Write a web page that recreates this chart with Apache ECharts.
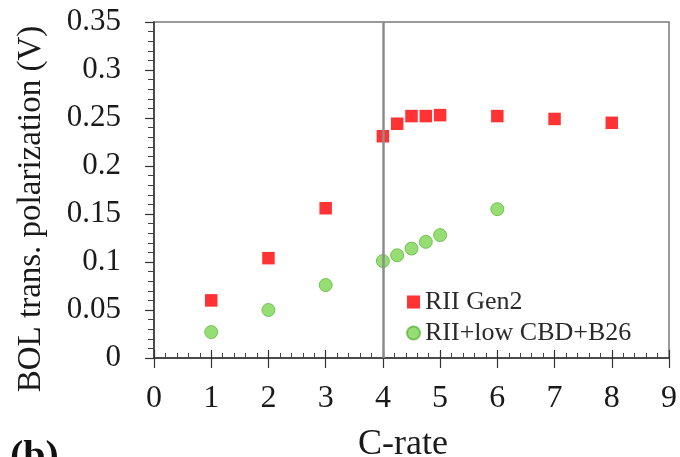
<!DOCTYPE html>
<html><head><meta charset="utf-8">
<script src="https://cdn.jsdelivr.net/npm/echarts@6/dist/echarts.min.js"></script>
<style>html,body{margin:0;padding:0;background:#fff}#c{width:680px;height:457px}</style>
</head><body><div id="c"></div>
<script>
const gen2X = [1, 2, 3, 4, 4.25, 4.5, 4.75, 5, 6, 7, 8];
const gen2Y = [0.060, 0.104, 0.156, 0.231, 0.244, 0.252, 0.252, 0.253, 0.252, 0.249, 0.245];
const b26X = [1, 2, 3, 4, 4.25, 4.5, 4.75, 5, 6];
const b26Y = [0.027, 0.050, 0.076, 0.101, 0.107, 0.114, 0.121, 0.128, 0.155];
const seriesNames = ['RII Gen2', 'RII+low CBD+B26'];
const yTicks = ['0', '0.05', '0.1', '0.15', '0.2', '0.25', '0.3', '0.35'];
const xTitle = 'C-rate';
const yTitle = 'BOL trans. polarization (V)';

const font = 'Liberation Serif';
const txt = '#1a1a1a';
const chart = echarts.init(document.getElementById('c'));
chart.setOption({
  animation: false,
  grid: {left: 154, right: 10, top: 22, bottom: 99, show: true, borderColor: '#7a7a7a', borderWidth: 1.5},
  xAxis: [{
    type: 'value', min: 0, max: 9, interval: 1, position: 'bottom',
    axisLine: {lineStyle: {color: '#333', width: 1.5}},
    axisTick: {inside: true, length: 8, lineStyle: {color: '#333', width: 1.2}},
    minorTick: {show: true, splitNumber: 5, length: 5, lineStyle: {color: '#444'}},
    splitLine: {show: false},
    axisLabel: {fontFamily: font, fontSize: 32, color: txt, margin: 25}
  }, {
    type: 'value', min: 0, max: 9, interval: 1, position: 'bottom',
    axisLine: {show: false},
    axisTick: {inside: false, length: 10, lineStyle: {color: '#333', width: 1.2}},
    splitLine: {show: false},
    axisLabel: {show: false}
  }],
  yAxis: {
    type: 'value', min: 0, max: 0.35, interval: 0.05,
    axisLine: {lineStyle: {color: '#333', width: 1.5}},
    axisTick: {length: 9, lineStyle: {color: '#333', width: 1.2}},
    minorTick: {show: true, splitNumber: 5, length: 6, lineStyle: {color: '#444'}},
    splitLine: {show: false},
    axisLabel: {fontFamily: font, fontSize: 31, color: txt, margin: 33,
      formatter: (v) => yTicks[Math.round(v / 0.05)]}
  },
  legend: {
    orient: 'vertical', left: 406, top: 289, padding: 0, itemGap: 5, itemWidth: 13, itemHeight: 13,
    textStyle: {fontFamily: font, fontSize: 26, color: '#2a2a2a'},
    data: [{name: seriesNames[0], icon: 'rect'}, {name: seriesNames[1], icon: 'circle'}]
  },
  graphic: [
    {type: 'text', x: 31, y: 209, rotation: Math.PI / 2,
     style: {text: yTitle, fontFamily: font, fontSize: 33, fill: txt, align: 'center', verticalAlign: 'middle'}},
    {type: 'text', x: 403, y: 445,
     style: {text: xTitle, fontFamily: font, fontSize: 36, fill: txt, align: 'center', verticalAlign: 'middle'}},
    {type: 'text', left: 10, top: 438,
     style: {text: '(b)', fontFamily: font, fontSize: 40, fontWeight: 'bold', fill: '#111'}}
  ],
  series: [
    {name: seriesNames[0], type: 'scatter', symbol: 'rect', symbolSize: 12.5,
     itemStyle: {color: '#ff0000'},
     data: gen2X.map((x, i) => [x, gen2Y[i]]),
     markLine: {silent: true, symbol: 'none', label: {show: false},
       lineStyle: {color: '#8c8c8c', type: 'solid', width: 2.5}, data: [{xAxis: 4}]}},
    {name: seriesNames[1], type: 'scatter', symbol: 'circle', symbolSize: 13,
     itemStyle: {color: '#7cd650', borderColor: '#5fb83f', borderWidth: 1},
     data: b26X.map((x, i) => [x, b26Y[i]])}
  ]
});
</script></body></html>
